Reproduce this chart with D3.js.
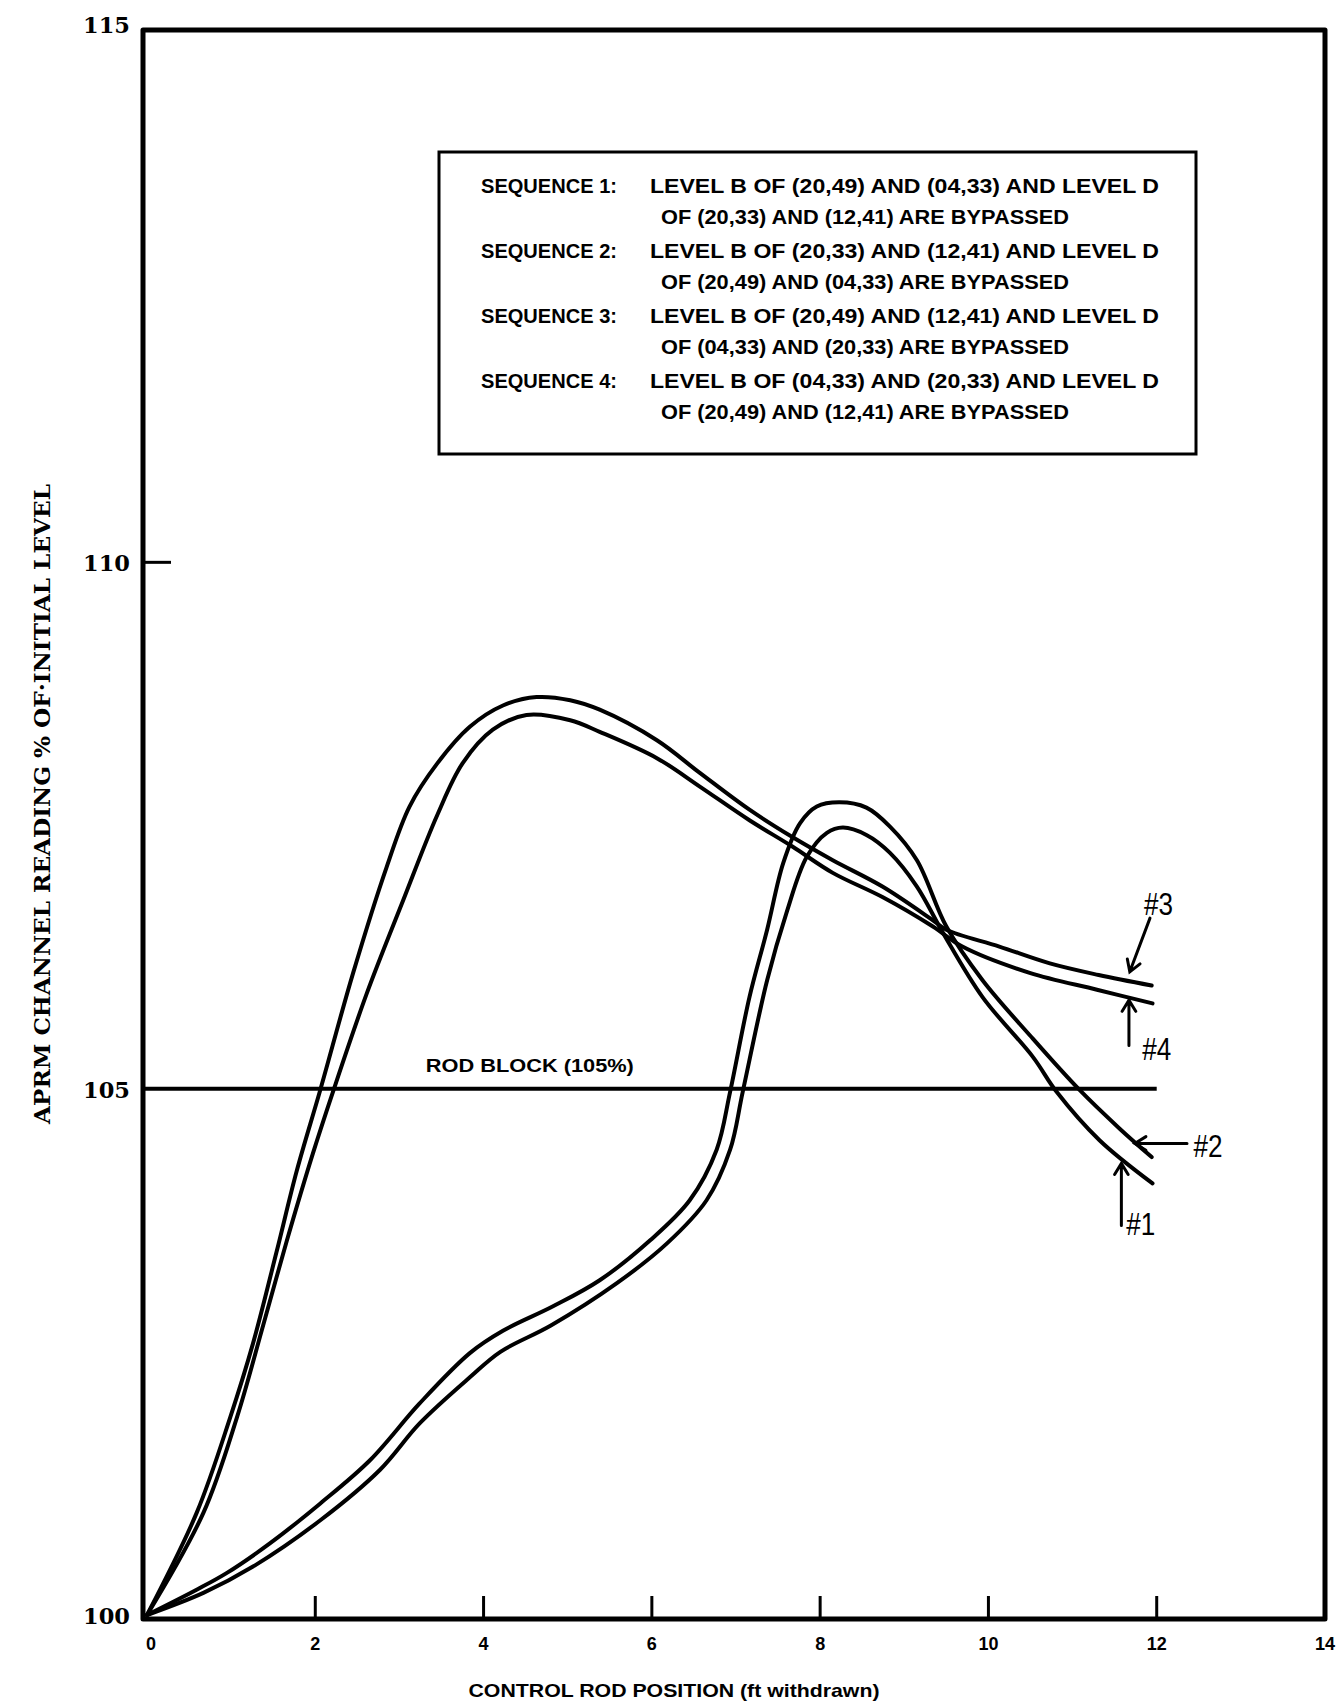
<!DOCTYPE html>
<html>
<head>
<meta charset="utf-8">
<script src="https://cdn.jsdelivr.net/npm/d3@7"></script>
<style>
  body { margin: 0; background: #fff; }
  text { fill: #000; }
</style>
</head>
<body>
<div id="chart"></div>
<script>
// valores (posicao da barra em ft, leitura APRM em %)
const xTicks = [0, 2, 4, 6, 8, 10, 12, 14];
const yTicks = [100, 105, 110, 115];
const rodBlock = 105;
const rodBlockEnd = 12;

const seq1 = [[0,100],[0.67,100.21],[1.26,100.46],[2.06,100.90],[2.77,101.38],[3.24,101.82],[3.84,102.26],
  [4.2,102.5],[4.8,102.75],[5.58,103.15],[6.18,103.53],[6.65,103.94],[6.93,104.42],[7.08,104.97],[7.37,106.03],
  [7.60,106.67],[7.84,107.20],[8.08,107.43],[8.27,107.48],[8.55,107.41],[8.83,107.24],[9.15,106.92],[9.46,106.48],
  [9.93,105.87],[10.53,105.30],[10.81,104.97],[11.32,104.51],[11.95,104.10]];

const seq2 = [[0,100],[0.59,100.24],[0.95,100.40],[1.46,100.68],[2.06,101.06],[2.65,101.47],[3.24,102.01],[3.84,102.49],
  [4.23,102.70],[4.82,102.93],[5.38,103.18],[5.98,103.56],[6.45,103.94],[6.77,104.42],[6.93,104.97],[7.16,105.87],
  [7.37,106.51],[7.56,107.14],[7.76,107.52],[7.96,107.68],[8.23,107.72],[8.55,107.67],[8.83,107.49],[9.15,107.17],
  [9.50,106.54],[9.93,106.03],[10.5,105.5],[11.08,104.99],[11.56,104.62],[11.94,104.35]];

const seq3 = [[0,100],[0.59,100.97],[0.99,101.88],[1.26,102.58],[1.54,103.45],[1.78,104.22],[2.06,104.99],[2.45,106.10],
  [2.85,107.11],[3.12,107.68],[3.45,108.09],[3.84,108.44],[4.23,108.64],[4.63,108.72],[5.03,108.69],[5.38,108.60],
  [6.06,108.31],[6.57,108.00],[7.16,107.65],[7.67,107.39],[8.15,107.17],[8.74,106.92],[9.34,106.60],[9.50,106.51],
  [10.13,106.35],[10.73,106.19],[11.31,106.08],[11.94,105.98]];

const seq4 = [[0,100],[0.67,100.97],[1.07,101.88],[1.38,102.75],[1.66,103.55],[1.97,104.38],[2.21,104.97],[2.61,105.90],
  [3.04,106.78],[3.45,107.60],[3.75,108.09],[4.11,108.41],[4.51,108.55],[5.03,108.50],[5.38,108.39],[6.06,108.14],
  [6.57,107.87],[7.16,107.55],[7.67,107.30],[8.15,107.05],[8.74,106.82],[9.34,106.54],[9.69,106.35],[10.49,106.10],
  [11.29,105.94],[11.95,105.81]];

// setas "#n": ponta, cauda e rotulo em unidades do grafico
const setas = [
  { nome: "#3", ponta: [11.68, 106.11], cauda: [11.92, 106.62], rotulo: [12.02, 106.65] },
  { nome: "#4", ponta: [11.67, 105.84], cauda: [11.67, 105.41], rotulo: [12.00, 105.27] },
  { nome: "#2", ponta: [11.74, 104.48], cauda: [12.36, 104.48], rotulo: [12.61, 104.35] },
  { nome: "#1", ponta: [11.58, 104.29], cauda: [11.58, 103.70], rotulo: [11.81, 103.61] }
];

const legendaRotulos = ["SEQUENCE 1:", "SEQUENCE 2:", "SEQUENCE 3:", "SEQUENCE 4:"];
const legendaLinhas = [
  ["LEVEL B OF (20,49) AND (04,33) AND LEVEL D", "OF (20,33) AND (12,41) ARE BYPASSED"],
  ["LEVEL B OF (20,33) AND (12,41) AND LEVEL D", "OF (20,49) AND (04,33) ARE BYPASSED"],
  ["LEVEL B OF (20,49) AND (12,41) AND LEVEL D", "OF (04,33) AND (20,33) ARE BYPASSED"],
  ["LEVEL B OF (04,33) AND (20,33) AND LEVEL D", "OF (20,49) AND (12,41) ARE BYPASSED"]
];

const width = 1342, height = 1704;
const sans = "'Liberation Sans', Arial, Helvetica, sans-serif";
const serif = "'DejaVu Serif', 'Liberation Serif', serif";

const svg = d3.select("#chart").append("svg")
    .attr("width", width)
    .attr("height", height)
    .style("background", "#fff");

const x = d3.scaleLinear([0, 14], [147, 1325]);
const y = d3.scaleLinear([100, 115], [1615, 36]);

// moldura do grafico
svg.append("path")
    .attr("d", `M${x(0) - 4},${y(115) - 6}H${x(14)}V${y(100) + 4}H${x(0) - 4}Z`)
    .attr("fill", "none")
    .attr("stroke", "#000")
    .attr("stroke-width", 5)
    .attr("stroke-linejoin", "round");

// marcas do eixo x
svg.selectAll(".xtick")
    .data(xTicks.filter(t => t > 0 && t < 14))
    .enter()
    .append("line")
    .attr("x1", d => x(d)).attr("x2", d => x(d))
    .attr("y1", y(100) + 2).attr("y2", y(100) - 19)
    .attr("stroke", "#000")
    .attr("stroke-width", 3);

svg.selectAll(".xlabel")
    .data(xTicks)
    .enter()
    .append("text")
    .attr("x", d => x(d) + (d === 0 ? 4 : 0))
    .attr("y", y(100) + 35)
    .attr("text-anchor", "middle")
    .attr("font-family", sans)
    .attr("font-weight", "bold")
    .attr("font-size", "18px")
    .text(d => d);

// marca do eixo y em 110
svg.append("line")
    .attr("x1", x(0) - 4).attr("x2", x(0) + 24)
    .attr("y1", y(110)).attr("y2", y(110))
    .attr("stroke", "#000")
    .attr("stroke-width", 3);

svg.selectAll(".ylabel")
    .data(yTicks)
    .enter()
    .append("text")
    .attr("x", 130)
    .attr("y", d => d === 115 ? y(d) - 3 : y(d) + 9)
    .attr("text-anchor", "end")
    .attr("font-family", serif)
    .attr("font-weight", "bold")
    .attr("font-size", "23px")
    .attr("textLength", 47)
    .attr("lengthAdjust", "spacingAndGlyphs")
    .text(d => d);

// titulos dos eixos
svg.append("text")
    .attr("transform", "translate(50, 804) rotate(-90)")
    .attr("text-anchor", "middle")
    .attr("font-family", serif)
    .attr("font-weight", "bold")
    .attr("font-size", "22px")
    .attr("textLength", 640)
    .attr("lengthAdjust", "spacingAndGlyphs")
    .text("APRM CHANNEL READING % OF\u00B7INITIAL LEVEL");

svg.append("text")
    .attr("x", 674)
    .attr("y", 1697)
    .attr("text-anchor", "middle")
    .attr("font-family", sans)
    .attr("font-weight", "bold")
    .attr("font-size", "19px")
    .attr("textLength", 411)
    .attr("lengthAdjust", "spacingAndGlyphs")
    .text("CONTROL ROD POSITION (ft withdrawn)");

// linha de bloqueio 105%
svg.append("line")
    .attr("x1", x(0) - 4).attr("x2", x(rodBlockEnd))
    .attr("y1", y(rodBlock)).attr("y2", y(rodBlock))
    .attr("stroke", "#000")
    .attr("stroke-width", 4);

svg.append("text")
    .attr("x", x(4.55))
    .attr("y", y(rodBlock) - 17)
    .attr("text-anchor", "middle")
    .attr("font-family", sans)
    .attr("font-weight", "bold")
    .attr("font-size", "18px")
    .attr("textLength", 208)
    .attr("lengthAdjust", "spacingAndGlyphs")
    .text("ROD BLOCK (105%)");

// curvas
const linha = d3.line()
    .x(d => x(d[0]))
    .y(d => y(d[1]))
    .curve(d3.curveCatmullRom.alpha(0.5));

svg.selectAll(".curva")
    .data([seq1, seq2, seq3, seq4])
    .enter()
    .append("path")
    .attr("d", linha)
    .attr("fill", "none")
    .attr("stroke", "#000")
    .attr("stroke-width", 4)
    .attr("stroke-linecap", "round");

// setas com rotulos
const g = svg.selectAll(".seta").data(setas).enter().append("g");

g.append("path")
    .attr("d", d => {
        const [x0, y0] = [x(d.cauda[0]), y(d.cauda[1])];
        const [x1, y1] = [x(d.ponta[0]), y(d.ponta[1])];
        const a = Math.atan2(y1 - y0, x1 - x0);
        const L = 13, ang = 0.55;
        const b1 = [x1 - L * Math.cos(a - ang), y1 - L * Math.sin(a - ang)];
        const b2 = [x1 - L * Math.cos(a + ang), y1 - L * Math.sin(a + ang)];
        return `M${x0},${y0}L${x1},${y1}M${b1[0]},${b1[1]}L${x1},${y1}L${b2[0]},${b2[1]}`;
    })
    .attr("fill", "none")
    .attr("stroke", "#000")
    .attr("stroke-width", 3)
    .attr("stroke-linecap", "round");

g.append("text")
    .attr("x", d => x(d.rotulo[0]))
    .attr("y", d => y(d.rotulo[1]))
    .attr("text-anchor", "middle")
    .attr("font-family", sans)
    .attr("font-size", "31px")
    .attr("textLength", 29)
    .attr("lengthAdjust", "spacingAndGlyphs")
    .text(d => d.nome);

// legenda
svg.append("rect")
    .attr("x", 439).attr("y", 152)
    .attr("width", 757).attr("height", 302)
    .attr("fill", "#fff")
    .attr("stroke", "#000")
    .attr("stroke-width", 3);

const leg = svg.selectAll(".leg").data(legendaRotulos).enter().append("g")
    .attr("font-family", sans)
    .attr("font-weight", "bold")
    .attr("font-size", "20px");

leg.append("text")
    .attr("x", 481).attr("y", (d, i) => 193 + i * 65)
    .attr("textLength", 136)
    .attr("lengthAdjust", "spacingAndGlyphs")
    .text(d => d);

leg.append("text")
    .attr("x", 650).attr("y", (d, i) => 193 + i * 65)
    .attr("textLength", 509)
    .attr("lengthAdjust", "spacingAndGlyphs")
    .text((d, i) => legendaLinhas[i][0]);

leg.append("text")
    .attr("x", 661).attr("y", (d, i) => 224 + i * 65)
    .attr("textLength", 408)
    .attr("lengthAdjust", "spacingAndGlyphs")
    .text((d, i) => legendaLinhas[i][1]);
</script>
</body>
</html>
